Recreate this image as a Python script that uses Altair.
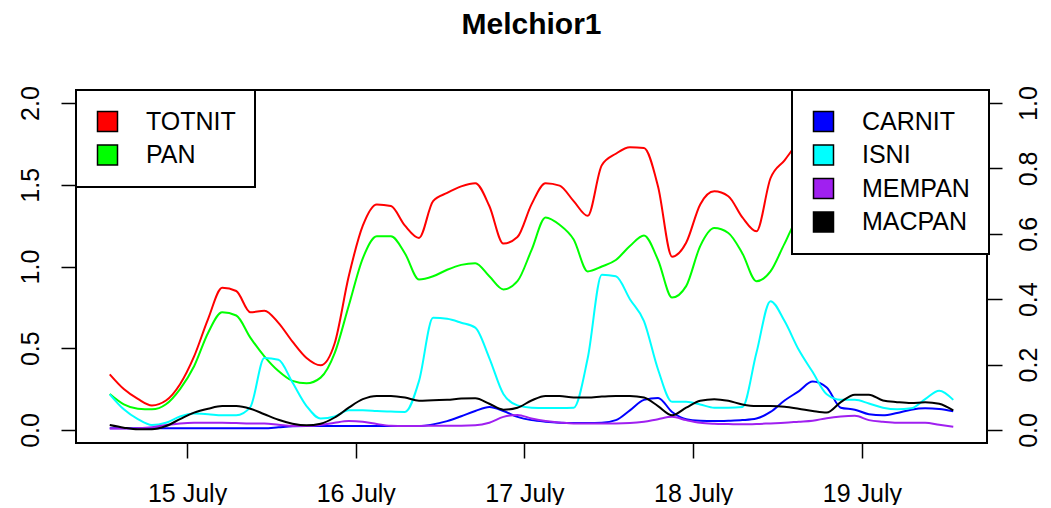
import altair as alt
import pandas as pd

# hours since 15 July 00:00
hours = [-11, -9, -7, -5, -3, -1, 1, 3, 5, 7,
         9, 11, 13, 15, 17, 19, 21, 23, 25, 27,
         29, 31, 33, 35, 37, 39, 41, 43, 45, 47,
         49, 51, 53, 55, 57, 59, 61, 63, 65, 67,
         69, 71, 73, 75, 77, 79, 81, 83, 85, 87,
         89, 91, 93, 95, 97, 99, 101, 103, 105, 107,
         109]

totnit = [0.34, 0.25, 0.19, 0.15, 0.18, 0.28, 0.45, 0.68, 0.87, 0.85,
          0.72, 0.73, 0.655, 0.54, 0.44, 0.395, 0.53, 0.94, 1.25, 1.38,
          1.37, 1.25, 1.175, 1.40, 1.45, 1.49, 1.51, 1.37, 1.14, 1.18,
          1.38, 1.51, 1.495, 1.40, 1.31, 1.62, 1.69, 1.73, 1.725, 1.49,
          1.06, 1.145, 1.38, 1.46, 1.43, 1.30, 1.215, 1.54, 1.65, 1.76,
          1.82, 1.85, 1.84, 1.80, 1.75, 1.70, 1.66, 1.62, 1.58, 1.55,
          1.52]
pan = [0.22, 0.157, 0.13, 0.126, 0.157, 0.25, 0.39, 0.595, 0.72, 0.70,
       0.565, 0.45, 0.36, 0.30, 0.285, 0.32, 0.47, 0.76, 1.05, 1.185,
       1.185, 1.08, 0.92, 0.94, 0.98, 1.01, 1.02, 0.94, 0.86, 0.91,
       1.10, 1.30, 1.255, 1.165, 0.97, 1.00, 1.04, 1.125, 1.19, 1.04,
       0.81, 0.88, 1.125, 1.235, 1.205, 1.08, 0.91, 0.97, 1.14, 1.30,
       1.33, 1.34, 1.33, 1.31, 1.29, 1.27, 1.25, 1.24, 1.22, 1.20,
       1.18]
carnit = [0.005, 0.005, 0.005, 0.005, 0.005, 0.005, 0.005, 0.005, 0.005, 0.005,
          0.005, 0.005, 0.008, 0.011, 0.012, 0.012, 0.012, 0.012, 0.012, 0.012,
          0.012, 0.012, 0.012, 0.017, 0.027, 0.042, 0.058, 0.07, 0.058, 0.04,
          0.03, 0.025, 0.022, 0.021, 0.021, 0.022, 0.03, 0.06, 0.092, 0.098,
          0.055, 0.033, 0.028, 0.027, 0.028, 0.03, 0.035, 0.055, 0.09, 0.118,
          0.148, 0.13, 0.068, 0.062, 0.048, 0.045, 0.052, 0.062, 0.066, 0.064,
          0.057]
isni = [0.109, 0.063, 0.033, 0.015, 0.022, 0.041, 0.05, 0.048, 0.045, 0.045,
        0.07, 0.22, 0.215, 0.145, 0.073, 0.035, 0.041, 0.06, 0.06, 0.058,
        0.056, 0.055, 0.15, 0.343, 0.34, 0.328, 0.313, 0.22, 0.11, 0.075,
        0.068, 0.067, 0.067, 0.068, 0.22, 0.475, 0.47, 0.40, 0.333, 0.185,
        0.086, 0.086, 0.078, 0.068, 0.068, 0.07, 0.236, 0.394, 0.333, 0.246,
        0.177, 0.109, 0.092, 0.092, 0.081, 0.068, 0.063, 0.066, 0.094, 0.12,
        0.092]
mempan = [0.004, 0.004, 0.005, 0.008, 0.015, 0.02, 0.022, 0.022, 0.022, 0.021,
          0.02, 0.02, 0.016, 0.012, 0.012, 0.015, 0.022, 0.027, 0.025, 0.018,
          0.013, 0.012, 0.012, 0.013, 0.013, 0.013, 0.014, 0.022, 0.04, 0.046,
          0.035, 0.027, 0.023, 0.02, 0.02, 0.02, 0.02, 0.021, 0.025, 0.033,
          0.04, 0.03, 0.022, 0.019, 0.018, 0.017, 0.018, 0.02, 0.022, 0.025,
          0.028, 0.036, 0.041, 0.043, 0.03, 0.025, 0.022, 0.022, 0.022, 0.016,
          0.01]
macpan = [0.015, 0.007, 0.002, 0.002, 0.012, 0.033, 0.053, 0.065, 0.073, 0.073,
          0.065, 0.048, 0.031, 0.019, 0.014, 0.019, 0.038, 0.068, 0.094, 0.104,
          0.104, 0.099, 0.089, 0.091, 0.092, 0.096, 0.097, 0.08, 0.062, 0.068,
          0.09, 0.104, 0.104, 0.099, 0.099, 0.102, 0.104, 0.104, 0.099, 0.073,
          0.045, 0.068, 0.089, 0.094, 0.089, 0.078, 0.073, 0.073, 0.071, 0.065,
          0.058, 0.053, 0.085, 0.108, 0.108, 0.09, 0.085, 0.082, 0.085, 0.08,
          0.06]

left_series = ["TOTNIT", "PAN"]
left_colors = ["#FF0000", "#00FF00"]
right_series = ["CARNIT", "ISNI", "MEMPAN", "MACPAN"]
right_colors = ["#0000FF", "#00FFFF", "#A020F0", "#000000"]
day_ticks = [0, 24, 48, 72, 96]
left_ticks = [0, 0.5, 1.0, 1.5, 2.0]
right_ticks = [0, 0.2, 0.4, 0.6, 0.8, 1.0]


def long_table(d):
    rows = []
    for name, vals in d.items():
        for h, v in zip(hours, vals):
            rows.append({"hour": h, "series": name, "value": v})
    return pd.DataFrame(rows)


left_df = long_table({"TOTNIT": totnit, "PAN": pan})
right_df = long_table({"CARNIT": carnit, "ISNI": isni, "MEMPAN": mempan, "MACPAN": macpan})
left_keys_df = pd.DataFrame({"series": left_series})
right_keys_df = pd.DataFrame({"series": right_series})

FONT = "Liberation Sans"

x_enc = alt.X(
    "hour:Q",
    scale=alt.Scale(domain=[-15.8, 113.8], nice=False, zero=False),
    axis=alt.Axis(values=day_ticks, labelExpr="(datum.value/24 + 15) + ' July'",
                  title=None, grid=False, domain=False, tickSize=15, tickWidth=1.5,
                  tickColor="black", labelFontSize=25, labelFont=FONT, labelColor="black",
                  labelPadding=23, labelFlush=False, labelOverlap=False),
)

y_left = alt.Y(
    "value:Q",
    scale=alt.Scale(domain=[-0.08, 2.08], nice=False, zero=False),
    axis=alt.Axis(values=left_ticks, format=".1f", orient="left", labelAngle=270,
                  labelAlign="center", labelBaseline="bottom", labelPadding=18,
                  tickSize=15, tickWidth=1.5, tickColor="black", labelFontSize=25,
                  labelFont=FONT, labelColor="black", domain=False, grid=False,
                  title=None, labelFlush=False, labelOverlap=False),
)
y_right = alt.Y(
    "value:Q",
    scale=alt.Scale(domain=[-0.04, 1.04], nice=False, zero=False),
    axis=alt.Axis(values=right_ticks, format=".1f", orient="right", labelAngle=270,
                  labelAlign="center", labelBaseline="top", labelPadding=14,
                  tickSize=15, tickWidth=1.5, tickColor="black", labelFontSize=25,
                  labelFont=FONT, labelColor="black", domain=False, grid=False,
                  title=None, labelFlush=False, labelOverlap=False),
)


def legend(x):
    return alt.Legend(title=None, orient="none", legendX=x, legendY=0,
                      direction="vertical", fillColor="white", strokeColor="black",
                      padding=19, symbolType="square", symbolSize=400,
                      symbolStrokeColor="black", symbolStrokeWidth=1.5,
                      symbolOpacity=1, labelFontSize=25, labelFont=FONT,
                      labelColor="black", labelOffset=26, rowPadding=6.5,
                      cornerRadius=0)


left_lines = alt.Chart(left_df).mark_line(strokeWidth=2, interpolate="monotone").encode(
    x=x_enc, y=y_left,
    stroke=alt.Stroke("series:N", scale=alt.Scale(domain=left_series, range=left_colors), legend=None),
)
right_lines = alt.Chart(right_df).mark_line(strokeWidth=2, interpolate="monotone").encode(
    x=x_enc, y=y_right,
    stroke=alt.Stroke("series:N", scale=alt.Scale(domain=right_series, range=right_colors), legend=None),
)
# invisible keys that only carry the two boxed legends
left_keys = alt.Chart(left_keys_df).mark_square(size=0).encode(
    fill=alt.Fill("series:N", scale=alt.Scale(domain=left_series, range=left_colors), legend=legend(0)),
)
right_keys = alt.Chart(right_keys_df).mark_square(size=0).encode(
    fill=alt.Fill("series:N", scale=alt.Scale(domain=right_series, range=right_colors), legend=legend(716)),
)

chart = alt.layer(
    left_lines, right_lines, left_keys, right_keys
).resolve_scale(
    y="independent", stroke="independent", fill="independent"
).properties(
    width=911, height=353,
    title=alt.TitleParams("Melchior1", fontSize=30, fontWeight="bold", font=FONT,
                          color="black", anchor="middle", frame="group", offset=46),
    padding={"left": 68, "top": 82, "right": 56, "bottom": 62},
    autosize=alt.AutoSizeParams(type="none"),
    background="white",
).configure_view(
    stroke="black", strokeWidth=2
).configure_legend(
    strokeWidth=2
)

chart.save("out.html", embed_options={"renderer": "svg", "actions": False})
